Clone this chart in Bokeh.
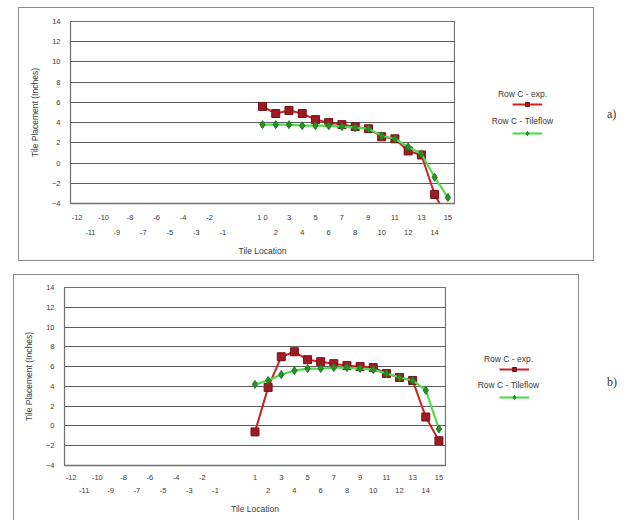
from bokeh.plotting import figure
from bokeh.models import (FixedTicker, LinearAxis, Range1d, Legend, LegendItem, Label, Div,
                          ColumnDataSource)
from bokeh.layouts import column, row
from bokeh.embed import file_html
from bokeh.resources import INLINE

# ---- data -------------------------------------------------------------
categories_a = ["-12", "-11", "-10", "-9", "-8", "-7", "-6", "-5", "-4", "-3", "-2", "-1",
                "", "", "1 0", "2", "3", "4", "5", "6", "7", "8", "9", "10", "11", "12",
                "13", "14", "15"]
categories_b = ["-12", "-11", "-10", "-9", "-8", "-7", "-6", "-5", "-4", "-3", "-2", "-1",
                "", "", "1", "2", "3", "4", "5", "6", "7", "8", "9", "10", "11", "12",
                "13", "14", "15"]
tile_location = ["1", "2", "3", "4", "5", "6", "7", "8", "9", "10", "11", "12", "13", "14", "15"]

exp_a = [5.6, 4.9, 5.2, 4.9, 4.3, 4.0, 3.8, 3.6, 3.4, 2.6, 2.4, 1.2, 0.8, -3.1, -5.5]
tileflow_a = [3.8, 3.8, 3.8, 3.7, 3.7, 3.7, 3.6, 3.5, 3.4, 2.7, 2.4, 1.6, 0.9, -1.4, -3.4]
exp_b = [-0.6, 3.9, 7.0, 7.5, 6.7, 6.5, 6.3, 6.1, 6.0, 5.9, 5.3, 4.9, 4.6, 0.9, -1.5]
tileflow_b = [4.2, 4.6, 5.2, 5.6, 5.8, 5.8, 5.9, 5.9, 5.8, 5.7, 5.3, 4.9, 4.6, 3.6, -0.3]

y_ticks = [-4, -2, 0, 2, 4, 6, 8, 10, 12, 14]
series_names = ["Row C - exp.", "Row C - Tileflow"]

FONT = "Liberation Sans"
TXT = "#3a3a3a"
RED_LINE, RED_FILL, RED_EDGE = "#cc2222", "#9c1c24", "#7a1018"
GRN_LINE, GRN_FILL, GRN_EDGE = "#52dc52", "#2a8f2a", "#1f7a1f"


def draw_series(p, src):
    r1 = p.line("x", "exp", source=src, line_color=RED_LINE, line_width=2)
    s1 = p.scatter("x", "exp", source=src, marker="square", size=8,
                   fill_color=RED_FILL, line_color=RED_EDGE)
    r2 = p.line("x", "tf", source=src, line_color=GRN_LINE, line_width=2.2)
    s2 = p.scatter("x", "tf", source=src, marker="diamond", size=8,
                   fill_color=GRN_FILL, line_color=GRN_EDGE)
    return r1, s1, r2, s2


def make_plot(cats, src, W, H, bl, bt, bb):
    n = len(cats)
    p = figure(width=W, height=H, x_range=Range1d(-0.5, n - 0.5), y_range=Range1d(-4, 14),
               output_backend="svg", toolbar_location=None,
               min_border_left=bl, min_border_right=1, min_border_top=bt, min_border_bottom=bb)
    p.outline_line_color = "#707070"
    p.outline_line_width = 1.2
    p.xgrid.visible = False
    p.ygrid.ticker = FixedTicker(ticks=y_ticks)
    p.ygrid.grid_line_color = "#5c5c5c"
    p.ygrid.grid_line_width = 1.2

    ya = p.yaxis[0]
    ya.ticker = FixedTicker(ticks=y_ticks)
    ya.axis_line_color = "#707070"
    ya.major_tick_line_color = None
    ya.minor_tick_line_color = None
    ya.major_tick_out = 0
    ya.major_tick_in = 0
    ya.major_label_standoff = 10
    ya.major_label_text_font = FONT
    ya.major_label_text_font_size = "7.5px"
    ya.major_label_text_color = TXT
    ya.axis_label = "Tile Placement (Inches)"
    ya.axis_label_text_font = FONT
    ya.axis_label_text_font_size = "8.5px"
    ya.axis_label_text_font_style = "normal"
    ya.axis_label_text_color = TXT
    ya.axis_label_standoff = 9

    even = list(range(0, n, 2))
    odd = list(range(1, n, 2))
    xa = p.xaxis[0]
    xa.ticker = FixedTicker(ticks=even)
    xa.major_label_overrides = {i: cats[i] for i in even}
    xa.axis_line_color = "#707070"
    xa.axis_line_width = 1.5
    xa.major_tick_line_color = None
    xa.minor_tick_line_color = None
    xa.major_tick_out = 0
    xa.major_tick_in = 0
    xa.major_label_standoff = 9
    xa.major_label_text_font = FONT
    xa.major_label_text_font_size = "7.5px"
    xa.major_label_text_color = TXT

    xb = LinearAxis(ticker=FixedTicker(ticks=odd), major_label_overrides={i: cats[i] for i in odd})
    xb.axis_line_color = None
    xb.major_tick_line_color = None
    xb.minor_tick_line_color = None
    xb.major_tick_out = 0
    xb.major_tick_in = 0
    xb.major_label_standoff = 5
    xb.major_label_text_font = FONT
    xb.major_label_text_font_size = "7.5px"
    xb.major_label_text_color = TXT
    xb.axis_label = "Tile Location"
    xb.axis_label_text_font = FONT
    xb.axis_label_text_font_size = "8.5px"
    xb.axis_label_text_font_style = "normal"
    xb.axis_label_text_color = TXT
    xb.axis_label_standoff = 8
    p.add_layout(xb, "below")

    draw_series(p, src)
    return p


def make_legend(src, W, H, text_x, text_y, leg_xy, spacing):
    # legend-only panel: its ranges lie away from the data, so only the legend samples show
    q = figure(width=W, height=H, x_range=Range1d(1000, 1001), y_range=Range1d(1000, 1001),
               output_backend="svg", toolbar_location=None, min_border=0)
    q.axis.visible = False
    q.grid.visible = False
    q.outline_line_color = None
    r1, s1, r2, s2 = draw_series(q, src)
    leg = Legend(items=[LegendItem(label=" ", renderers=[r1, s1]),
                        LegendItem(label=" ", renderers=[r2, s2])],
                 location=leg_xy, glyph_width=30, glyph_height=10, label_height=10,
                 spacing=spacing, padding=0, margin=0, border_line_color=None,
                 background_fill_alpha=0, label_width=0, label_standoff=0,
                 label_text_font_size="6px")
    q.add_layout(leg, "center")
    for name, ty in zip(series_names, text_y):
        q.add_layout(Label(x=text_x, y=ty, x_units="screen", y_units="screen", text=name,
                           text_align="center", text_baseline="middle", text_font=FONT,
                           text_font_size="8.5px", text_color=TXT))
    return q


xs = [categories_b.index(t) for t in tile_location]
src_a = ColumnDataSource(data=dict(x=xs, exp=exp_a, tf=tileflow_a))
src_b = ColumnDataSource(data=dict(x=xs, exp=exp_b, tf=tileflow_b))

BOX = {"border": "1px solid #8a8a8a", "background-color": "white"}

pa = make_plot(categories_a, src_a, 436, 252, 51, 13, 57)
la = make_legend(src_a, 138, 252, 67, (110, 83), (57, 65), 19)
pb = make_plot(categories_b, src_b, 432, 246, 50, 12, 56)
lb = make_legend(src_b, 132, 246, 62, (107, 81), (53, 63), 18)

box_a = row(pa, la, styles=BOX, margin=(7, 0, 0, 18))
box_b = row(pb, lb, styles=BOX, margin=(13, 0, 0, 13))

lab_style = {"font-family": "Liberation Serif", "font-size": "12px", "color": "#333"}
diva = Div(text="a)", styles=lab_style, margin=(106, 0, 0, 13), width=20)
divb = Div(text="b)", styles=lab_style, margin=(113, 0, 0, 28), width=20)

layout = column(row(box_a, diva), row(box_b, divb))
open("out.html", "w").write(file_html(layout, INLINE))
